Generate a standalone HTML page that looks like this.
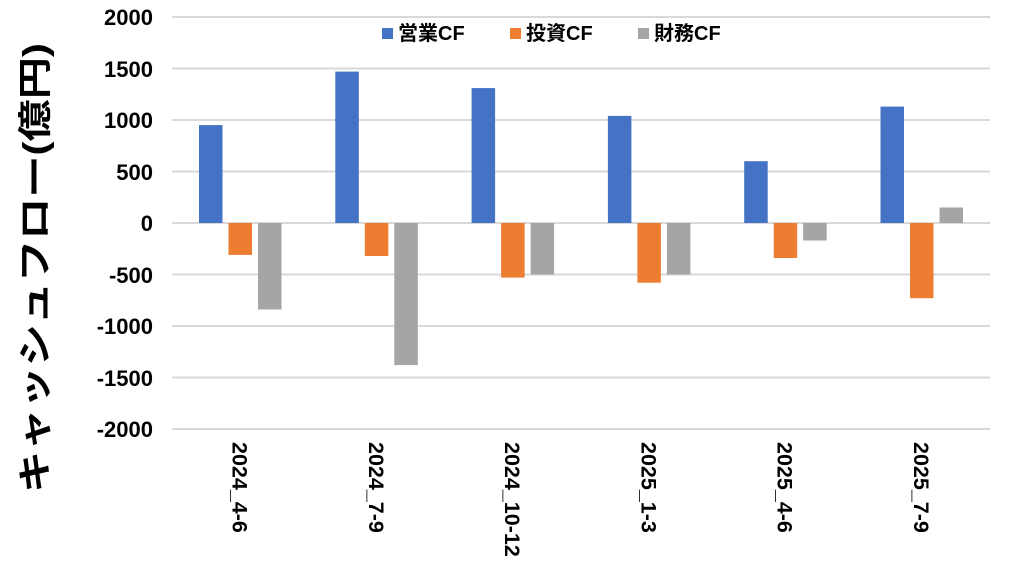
<!DOCTYPE html>
<html><head><meta charset="utf-8"><style>
body{margin:0;background:#fff;}
svg text{font-family:"Liberation Sans","Noto Sans CJK JP",sans-serif;font-weight:bold;fill:#000;}
</style></head><body>
<svg width="1024" height="581" xmlns="http://www.w3.org/2000/svg">
<g stroke="#d9d9d9" stroke-width="2">
<line x1="172" x2="990" y1="17" y2="17"/>
<line x1="172" x2="990" y1="68.5" y2="68.5"/>
<line x1="172" x2="990" y1="120" y2="120"/>
<line x1="172" x2="990" y1="171.5" y2="171.5"/>
<line x1="172" x2="990" y1="223" y2="223"/>
<line x1="172" x2="990" y1="274.5" y2="274.5"/>
<line x1="172" x2="990" y1="326" y2="326"/>
<line x1="172" x2="990" y1="377.5" y2="377.5"/>
<line x1="172" x2="990" y1="429" y2="429"/>
</g>
<g font-size="22" text-anchor="end">
<text x="153" y="25">2000</text>
<text x="153" y="77">1500</text>
<text x="153" y="128">1000</text>
<text x="153" y="180">500</text>
<text x="153" y="231">0</text>
<text x="153" y="283">-500</text>
<text x="153" y="334">-1000</text>
<text x="153" y="386">-1500</text>
<text x="153" y="437">-2000</text>
</g>
<text transform="translate(38,268) rotate(-90)" font-size="34" text-anchor="middle" dominant-baseline="middle" textLength="450" lengthAdjust="spacingAndGlyphs">キャッシュフロー(億円)</text>
<g fill="#4472c4">
<rect x="199" y="125.1" width="23.5" height="97.9"/>
<rect x="335.3" y="71.6" width="23.5" height="151.4"/>
<rect x="471.6" y="88.1" width="23.5" height="134.9"/>
<rect x="607.9" y="115.9" width="23.5" height="107.1"/>
<rect x="744.2" y="161.2" width="23.5" height="61.8"/>
<rect x="880.5" y="106.6" width="23.5" height="116.4"/>
</g>
<g fill="#ed7d31">
<rect x="228.5" y="223" width="23.5" height="31.9"/>
<rect x="364.8" y="223" width="23.5" height="33"/>
<rect x="501.1" y="223" width="23.5" height="54.6"/>
<rect x="637.4" y="223" width="23.5" height="59.7"/>
<rect x="773.7" y="223" width="23.5" height="35"/>
<rect x="910" y="223" width="23.5" height="75.2"/>
</g>
<g fill="#a5a5a5">
<rect x="258" y="223" width="23.5" height="86.5"/>
<rect x="394.3" y="223" width="23.5" height="142.1"/>
<rect x="530.6" y="223" width="23.5" height="51.5"/>
<rect x="666.9" y="223" width="23.5" height="51.5"/>
<rect x="803.2" y="223" width="23.5" height="17.5"/>
<rect x="939.5" y="207.5" width="23.5" height="15.5"/>
</g>
<g font-size="21.5">
<text transform="translate(232.5,442) rotate(90)">2024_4-6</text>
<text transform="translate(368.8,442) rotate(90)">2024_7-9</text>
<text transform="translate(505.1,442) rotate(90)">2024_10-12</text>
<text transform="translate(641.4,442) rotate(90)">2025_1-3</text>
<text transform="translate(777.7,442) rotate(90)">2025_4-6</text>
<text transform="translate(914,442) rotate(90)">2025_7-9</text>
</g>
<g font-size="20">
<rect x="382" y="28" width="11" height="11" fill="#4472c4"/><text x="398" y="40">営業CF</text>
<rect x="510" y="28" width="11" height="11" fill="#ed7d31"/><text x="526" y="40">投資CF</text>
<rect x="638" y="28" width="11" height="11" fill="#a5a5a5"/><text x="654" y="40">財務CF</text>
</g>
</svg>
</body></html>
